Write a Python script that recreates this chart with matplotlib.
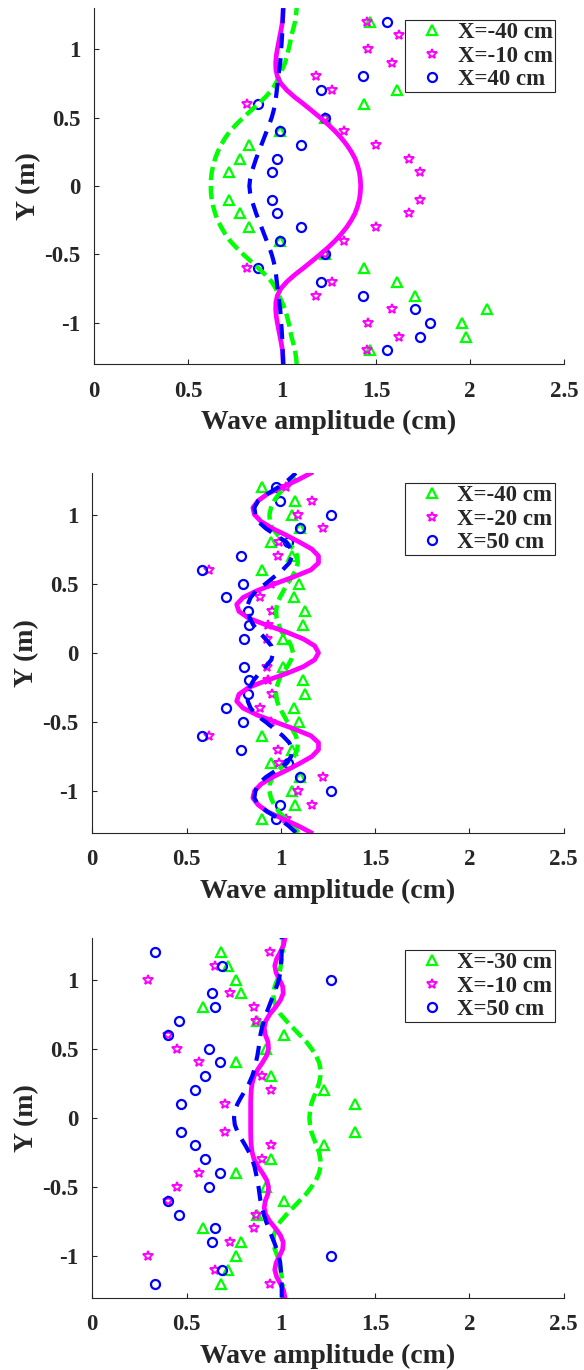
import numpy as np
import matplotlib
matplotlib.use("Agg")
from matplotlib import pyplot as plt
from matplotlib.ticker import FormatStrFormatter

# measurement rows (the profiles are symmetric about Y = 0, only Y > 0 is listed)
y_half = [0.1, 0.2, 0.3, 0.4, 0.5, 0.6, 0.7, 0.8, 0.9, 1.0, 1.1, 1.2]

# panel 1 measurements
p1_labels = ["X=-40 cm", "X=-10 cm", "X=40 cm"]
p1_tri = [0.72, 0.777, 0.823, 0.99, 1.23, 1.436, 1.61, 1.707, 2.089, 1.956, 1.979, 1.466]
p1_star = [1.736, 1.677, 1.498, 1.33, 1.23, 0.816, 1.268, 1.178, 1.583, 1.459, 1.624, 1.45]
p1_circ = [0.949, 0.972, 1.101, 0.99, 1.23, 0.871, 1.207, 1.429, 1.707, 1.784, 1.734, 1.558]

# panel 2 measurements
p2_labels = ["X=-40 cm", "X=-20 cm", "X=50 cm"]
p2_tri = [1.012, 1.12, 1.13, 1.072, 1.099, 0.898, 1.06, 0.948, 1.10, 1.057, 1.076, 0.899]
p2_star = [0.926, 0.93, 0.953, 0.892, 0.95, 0.619, 0.987, 0.988, 1.225, 1.09, 1.168, 1.03]
p2_circ = [0.807, 0.834, 0.825, 0.707, 0.797, 0.581, 0.788, 1.04, 1.104, 1.267, 0.997, 0.977]

# panel 3 measurements
p3_labels = ["X=-30 cm", "X=-10 cm", "X=50 cm"]
p3_tri = [1.393, 1.228, 0.95, 0.76, 0.92, 1.018, 0.875, 0.585, 0.791, 0.76, 0.72, 0.682]
p3_star = [0.703, 0.95, 0.898, 0.565, 0.45, 0.402, 0.871, 0.857, 0.733, 0.296, 0.65, 0.942]
p3_circ = [0.473, 0.544, 0.6, 0.676, 0.62, 0.402, 0.461, 0.65, 0.636, 1.264, 0.689, 0.332]

# model curves, sampled at Y = 0, 0.05, ..., 1.3
y_curve = [0.0, 0.05, 0.1, 0.15, 0.2, 0.25, 0.3, 0.35, 0.4, 0.45, 0.5, 0.55, 0.6,
           0.65, 0.7, 0.75, 0.8, 0.85, 0.9, 0.95, 1.0, 1.05, 1.1, 1.15, 1.2, 1.25, 1.3]

p1_green = [0.621, 0.622, 0.626, 0.634, 0.644, 0.658, 0.676, 0.697, 0.723, 0.757, 0.794,
            0.834, 0.874, 0.912, 0.945, 0.967, 0.984, 1.0, 1.016, 1.026, 1.035, 1.043,
            1.05, 1.06, 1.069, 1.074, 1.078]
p1_magenta = [1.418, 1.416, 1.411, 1.401, 1.388, 1.368, 1.344, 1.315, 1.282, 1.244, 1.202,
              1.158, 1.113, 1.066, 1.025, 0.993, 0.975, 0.967, 0.966, 0.969, 0.975, 0.982,
              0.989, 0.996, 1.002, 1.005, 1.007]
p1_blue = [0.826, 0.83, 0.838, 0.85, 0.862, 0.876, 0.89, 0.904, 0.918, 0.932, 0.945, 0.955,
           0.963, 0.968, 0.972, 0.976, 0.98, 0.985, 0.99, 0.993, 0.995, 0.998, 1.0, 1.002,
           1.003, 1.004, 1.005]

p2_green = [1.065, 1.055, 1.035, 1.005, 0.99, 0.978, 0.975, 0.98, 0.995, 1.015, 1.035, 1.06,
            1.08, 1.09, 1.088, 1.07, 1.03, 0.985, 0.955, 0.942, 0.94, 0.948, 0.965, 0.99,
            1.025, 1.06, 1.095]
p2_magenta = [1.2, 1.18, 1.12, 1.03, 0.925, 0.83, 0.778, 0.766, 0.8, 0.875, 0.97, 1.07, 1.16,
              1.2, 1.2, 1.165, 1.1, 1.03, 0.955, 0.895, 0.86, 0.852, 0.88, 0.93, 1.01, 1.09,
              1.16]
p2_blue = [0.96, 0.95, 0.92, 0.885, 0.855, 0.835, 0.826, 0.825, 0.84, 0.87, 0.92, 0.965, 1.01,
           1.045, 1.06, 1.055, 1.03, 0.975, 0.92, 0.88, 0.865, 0.86, 0.88, 0.93, 0.99, 1.04,
           1.08]

p3_green = [1.152, 1.155, 1.162, 1.175, 1.19, 1.203, 1.21, 1.211, 1.203, 1.187, 1.163, 1.135,
            1.1, 1.065, 1.03, 0.998, 0.976, 0.963, 0.96, 0.968, 0.982, 0.994, 1.0, 1.005,
            1.01, 1.012, 1.012]
p3_magenta = [0.84, 0.84, 0.84, 0.841, 0.843, 0.848, 0.858, 0.878, 0.903, 0.925, 0.935, 0.932,
              0.918, 0.912, 0.92, 0.942, 0.972, 0.998, 1.013, 1.01, 0.993, 0.975, 0.968,
              0.978, 0.998, 1.015, 1.022]
p3_blue = [0.752, 0.756, 0.77, 0.79, 0.812, 0.832, 0.848, 0.86, 0.868, 0.876, 0.882, 0.887,
           0.892, 0.9, 0.91, 0.922, 0.936, 0.95, 0.965, 0.978, 0.99, 0.997, 1.0, 1.003,
           1.005, 1.005, 1.005]

plt.rcParams["font.family"] = ["Liberation Serif", "DejaVu Serif"]
plt.rcParams["font.weight"] = "bold"
plt.rcParams["axes.unicode_minus"] = False

AX_COLOR = "#262626"


def mirror(y, v):
    # reflect a Y >= 0 profile to the whole section
    y = np.asarray(y)
    v = np.asarray(v)
    if y[0] == 0:
        return np.concatenate([-y[:0:-1], y]), np.concatenate([v[:0:-1], v])
    return np.concatenate([-y[::-1], y]), np.concatenate([v[::-1], v])


def draw_panel(ax, labels, tri, star, circ, green, magenta, blue, legend_top):
    yy, v = mirror(y_half, tri)
    ax.plot(v, yy, ls="none", marker="^", ms=7, mfc="none", mec="#00ff00", mew=1.6,
            label=labels[0])
    yy, v = mirror(y_half, star)
    ax.plot(v, yy, ls="none", marker="*", ms=7.5, mfc="none", mec="#ff00ff", mew=1.4,
            label=labels[1])
    yy, v = mirror(y_half, circ)
    ax.plot(v, yy, ls="none", marker="o", ms=6.5, mfc="none", mec="#0000ff", mew=1.6,
            label=labels[2])

    yc, v = mirror(y_curve, green)
    ax.plot(v, yc, color="#00ff00", lw=3.2, dashes=(3, 1.3))
    yc, v = mirror(y_curve, magenta)
    ax.plot(v, yc, color="#ff00ff", lw=3.4)
    yc, v = mirror(y_curve, blue)
    ax.plot(v, yc, color="#0000ff", lw=3.0, dashes=(3.6, 2.4))

    ax.set_xlim(0, 2.5)
    ax.set_ylim(-1.3, 1.3)
    ax.set_xticks([0, 0.5, 1, 1.5, 2, 2.5])
    ax.set_yticks([-1, -0.5, 0, 0.5, 1])
    ax.xaxis.set_major_formatter(FormatStrFormatter("%g"))
    ax.yaxis.set_major_formatter(FormatStrFormatter("%g"))
    for side in ["top", "right"]:
        ax.spines[side].set_visible(False)
    for side in ["left", "bottom"]:
        ax.spines[side].set_color(AX_COLOR)
        ax.spines[side].set_linewidth(0.8)
    ax.tick_params(direction="in", length=3.5, width=0.8, colors=AX_COLOR,
                   labelsize=16.5, labelcolor=AX_COLOR)
    ax.tick_params(axis="x", pad=12)
    ax.tick_params(axis="y", pad=10)
    ax.set_xlabel("Wave amplitude (cm)", fontsize=20, fontweight="bold",
                  color=AX_COLOR, labelpad=6)
    ax.set_ylabel("Y (m)", fontsize=20, fontweight="bold", color=AX_COLOR,
                  labelpad=2)

    leg = ax.legend(loc="upper right", bbox_to_anchor=(0.981, legend_top),
                    borderaxespad=0, numpoints=1, fontsize=16.5, fancybox=False,
                    framealpha=1, edgecolor=AX_COLOR, borderpad=0.1,
                    handlelength=2.15, handletextpad=0.05, labelspacing=0.1)
    leg.get_frame().set_linewidth(0.8)
    for text in leg.get_texts():
        text.set_color(AX_COLOR)


fig = plt.figure(figsize=(5.84, 13.7), dpi=100)

ax1 = fig.add_axes([0.161, 0.7343, 0.805, 0.2599])
ax2 = fig.add_axes([0.158, 0.3923, 0.807, 0.2624])
ax3 = fig.add_axes([0.158, 0.0529, 0.807, 0.2624])

draw_panel(ax1, p1_labels, p1_tri, p1_star, p1_circ, p1_green, p1_magenta, p1_blue, 0.966)
draw_panel(ax2, p2_labels, p2_tri, p2_star, p2_circ, p2_green, p2_magenta, p2_blue, 0.972)
draw_panel(ax3, p3_labels, p3_tri, p3_star, p3_circ, p3_green, p3_magenta, p3_blue, 0.967)

fig.savefig("out.png", dpi=100)
